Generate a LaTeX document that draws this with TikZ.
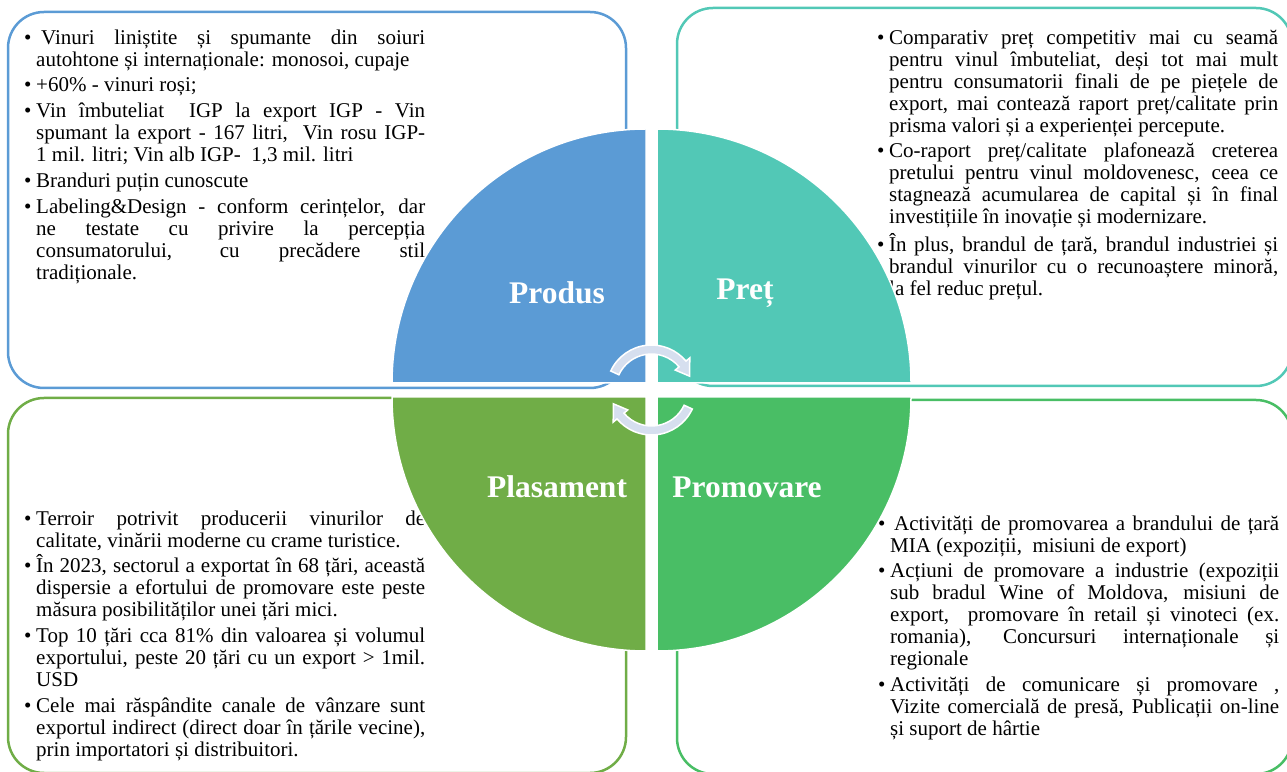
\documentclass[tikz,border=0pt]{standalone}
\usepackage{fontspec}
\setmainfont{Liberation Serif}
\usepackage{tikz}
\definecolor{albastru}{RGB}{91,155,213}
\definecolor{turcoaz}{RGB}{82,200,182}
\definecolor{masliniu}{RGB}{112,173,71}
\definecolor{verde}{RGB}{73,190,101}
\definecolor{sageatac}{RGB}{214,223,239}
\newenvironment{puncte}{\begin{list}{\textbullet}{\setlength\leftmargin{12pt}%
  \setlength\labelwidth{12pt}\setlength\labelsep{0pt}\setlength\itemsep{3.75pt}%
  \setlength\parsep{0pt}\setlength\topsep{0pt}\setlength\partopsep{0pt}%
  \renewcommand\makelabel[1]{##1\hfil}}%
  \hyphenpenalty=10000 \exhyphenpenalty=10000 \tolerance=10000}{\end{list}}

\begin{document}
\begin{tikzpicture}[x=1pt,y=1pt,
  box/.style={draw,line width=2.5pt,rounded corners=36pt},
  sfert/.style={draw=white,line width=1.5pt},
  eticheta/.style={text=white,font=\fontsize{31.5}{34}\selectfont\bfseries},
  lista/.style={anchor=north west,inner sep=0pt,text width=401pt,align=justify,
    font=\fontsize{21}{22}\selectfont},
  sageata/.style={fill=sageatac,draw=white,line width=1.5pt}]
  \useasboundingbox (0,0) rectangle (1287,771);
  \coordinate (C) at (651.5,381);
  % cele patru casete
  \draw[box,albastru] (8,383) rectangle (626,759);
  \draw[box,turcoaz] (677,385) rectangle (1292,763);
  \draw[box,masliniu] (8,-2) rectangle (626,373);
  \draw[box,verde] (677,-3) rectangle (1292,371);
  % textele
  \node[lista] (tprodus) at (24,749) {\begin{puncte}
    \item \strut\hspace*{5pt}Vinuri liniștite și spumante din soiuri\linebreak autohtone și internaționale: monosoi, cupaje
    \item +60\% - vinuri roși;
    \item Vin îmbuteliat\ \ IGP la export IGP - Vin\linebreak spumant la export - 167 litri,\ \ Vin rosu IGP-\linebreak 1 mil. litri; Vin alb IGP-\ \ 1,3 mil. litri
    \item Branduri puțin cunoscute
    \item Labeling\&Design - conform cerințelor, dar\linebreak ne testate cu privire la percepția\linebreak consumatorului, cu precădere stil\linebreak tradiționale.
  \end{puncte}};
  \node[lista] (tpret) at (877,749) {\begin{puncte}
    \item \strut Comparativ preț competitiv mai cu seamă\linebreak pentru vinul îmbuteliat, deși tot mai mult\linebreak pentru consumatorii finali de pe piețele de\linebreak export, mai contează raport preț/calitate prin\linebreak prisma valori și a experienței percepute.
    \item Co-raport preț/calitate plafonează creterea\linebreak pretului pentru vinul moldovenesc, ceea ce\linebreak stagnează acumularea de capital și în final\linebreak investițiile în inovație și modernizare.
    \item În plus, brandul de țară, brandul industriei și\linebreak brandul vinurilor cu o recunoaștere minoră,\linebreak la fel reduc prețul.
  \end{puncte}};
  \node[lista] (tplasament) at (24,268) {\begin{puncte}
    \item \strut Terroir potrivit producerii vinurilor de\linebreak calitate, vinării moderne cu crame turistice.
    \item În 2023, sectorul a exportat în 68 țări, această\linebreak dispersie a efortului de promovare este peste\linebreak măsura posibilităților unei țări mici.
    \item Top 10 țări cca 81\% din valoarea și volumul\linebreak exportului, peste 20 țări cu un export > 1mil.\linebreak USD
    \item Cele mai răspândite canale de vânzare sunt\linebreak exportul indirect (direct doar în țările vecine),\linebreak prin importatori și distribuitori.
  \end{puncte}};
  \node[lista] (tpromovare) at (878,263) {\begin{puncte}
    \item \strut\hspace*{4pt}Activități de promovarea a brandului de țară\linebreak MIA (expoziții,\ \ misiuni de export)
    \item Acțiuni de promovare a industrie (expoziții\linebreak sub bradul Wine of Moldova, misiuni de\linebreak export,\ \ promovare în retail și vinoteci (ex.\linebreak romania), Concursuri internaționale și\linebreak regionale
    \item Activități de comunicare și promovare ,\linebreak Vizite comercială de presă, Publicații on-line\linebreak și suport de hârtie
  \end{puncte}};
  % cercul din patru sferturi
  \foreach \cx/\cy/\a/\c in {646/388/90/albastru, 657/388/0/turcoaz,
      646/374/180/masliniu, 657/374/270/verde}
    \filldraw[sfert,fill=\c] (\cx,\cy) -- ++(\a:254) arc[start angle=\a, end angle=\a+90, radius=254] -- cycle;
  \node[eticheta] (produs) at (557,478) {Produs};
  \node[eticheta] (pret) at (745,478) {Preț};
  \node[eticheta] (plasament) at (557,284) {Plasament};
  \node[eticheta] (promovare) at (747,284) {Promovare};
  % sagetile circulare
  \foreach \r in {0,180}
    \filldraw[sageata] ([shift={(155+\r:45)}]C) arc[start angle=155+\r, end angle=40+\r, radius=45]
      -- ([shift={(40+\r:50)}]C) -- ([shift={(20+\r:40.5)}]C) -- ([shift={(40+\r:31)}]C)
      -- ([shift={(40+\r:36)}]C) arc[start angle=40+\r, end angle=155+\r, radius=36] -- cycle;
\end{tikzpicture}
\end{document}
